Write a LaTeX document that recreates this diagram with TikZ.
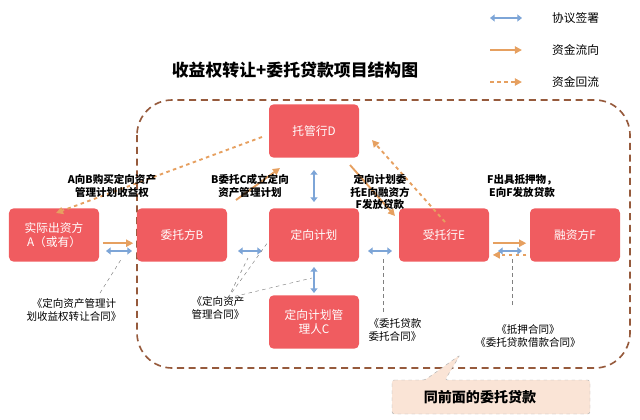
\documentclass[tikz,border=0pt]{standalone}
\usepackage{fontspec}
\setmainfont{Noto Sans CJK SC}
\usetikzlibrary{arrows.meta,positioning}
\definecolor{boxred}{RGB}{240,92,96}
\definecolor{flow}{RGB}{230,160,96}
\definecolor{sign}{RGB}{125,165,215}
\definecolor{frame}{RGB}{150,90,60}
\definecolor{callfill}{RGB}{250,228,214}
\tikzset{
  party/.style={fill=boxred,rounded corners=4pt,minimum width=2.7cm,minimum height=1.6cm,text=white,font=\normalsize,align=center,inner sep=1pt},
  pay/.style={draw=flow,line width=1.6pt,-{Triangle[length=6pt,width=6pt]}},
  back/.style={pay,dashed},
  deal/.style={draw=sign,line width=2.2pt,{Triangle[length=4pt,width=6pt]}-{Triangle[length=4pt,width=6pt]}},
  note/.style={font=\small,align=center,inner sep=1pt},
  link/.style={draw=gray,dashed,thin}
}
\begin{document}
\begin{tikzpicture}[x=0.03cm,y=-0.03cm]
    \useasboundingbox (0,0) rectangle (640,420);
    \draw[frame,line width=1.4pt,dash pattern=on 6pt off 4pt,rounded corners=30pt] (137,100) rectangle (630,368);
    \node[font=\Large\bfseries] (title) at (295,70) {收益权转让+委托贷款项目结构图};
    % legend
    \coordinate (l1a) at (490,18); \coordinate (l1b) at (522,18);
    \coordinate (l2a) at (490,50); \coordinate (l2b) at (522,50);
    \coordinate (l3a) at (490,82); \coordinate (l3b) at (522,82);
    \draw[deal] (l1a) -- (l1b); \node[font=\normalsize,anchor=west] (t1) at (548,18) {协议签署};
    \draw[pay] (l2a) -- (l2b); \node[font=\normalsize,anchor=west] (t2) at (548,50) {资金流向};
    \draw[back] (l3a) -- (l3b); \node[font=\normalsize,anchor=west] (t3) at (548,82) {资金回流};
    % parties
    \node[party] (A) at (54,235) {实际出资方\\A（或有）};
    \node[party] (B) at (182,235) {委托方B};
    \node[party] (P) at (314,235) {定向计划};
    \node[party] (E) at (444,235) {受托行E};
    \node[party] (F) at (575,235) {融资方F};
    \node[party] (D) at (314,131) {托管行D};
    \node[party] (C) at (314,322) {定向计划管\\理人C};
    % money
    \draw[pay] ([xshift=3,yshift=-7]A.east) -- ([xshift=-3,yshift=-7]B.west);
    \draw[pay] ([xshift=3,yshift=-7]E.east) -- ([xshift=-3,yshift=-7]F.west);
    \draw[back] ([xshift=-3,yshift=-17]F.west) -- ([xshift=3,yshift=-17]E.east);
    \draw[pay] (236,200) -- (280,168);
    \draw[pay] (350,165) -- (395,216);
    \draw[back] (445,222) -- (372,140);
    \draw[back] (262,137) -- (56,213);
    % agreements
    \draw[deal] (106,251) -- (132,251);
    \draw[deal] (238,251) -- (262,251);
    \draw[deal] (368,251) -- (392,251);
    \draw[deal] (498,251) -- (522,251);
    \draw[deal] (314,170) -- (314,202);
    \draw[deal] (314,267) -- (314,293);
    % labels
    \node[note,font=\small\bfseries] (n1) at (112,186) {A向B购买定向资产\\管理计划收益权};
    \node[note,font=\small\bfseries] (n2) at (250,186) {B委托C成立定向\\资产管理计划};
    \node[note,font=\small\bfseries] (n3) at (380,192) {定向计划委\\托E向融资方\\F发放贷款};
    \node[note,font=\small\bfseries] (n4) at (522,186) {F出具抵押物，\\E向F发放贷款};
    % contracts
    \node[note] (k1) at (74,310) {《定向资产管理计\\划收益权转让合同》};
    \node[note] (k2) at (218,308) {《定向资产\\管理合同》};
    \node[note] (k3) at (395,330) {《委托贷款\\委托合同》};
    \node[note] (k4) at (528,336) {《抵押合同》\\《委托贷款借款合同》};
    \draw[link] (100,293) -- (122,258);
    \draw[link] (228,298) -- (248,258);
    \draw[link] (228,298) -- (268,242);
    \draw[link] (228,298) -- (312,278);
    \draw[link] (383,312) -- (383,258);
    \draw[link] (512,305) -- (512,258);
    % callout
    \draw[draw=gray!60,fill=callfill,dashed,rounded corners=2pt] (392,380) -- (425,380) -- (460,355) -- (445,380) -- (590,380) -- (590,414) -- (392,414) -- cycle;
    \node[font=\large\bfseries] (cb) at (480,397) {同前面的委托贷款};
\end{tikzpicture}
\end{document}
